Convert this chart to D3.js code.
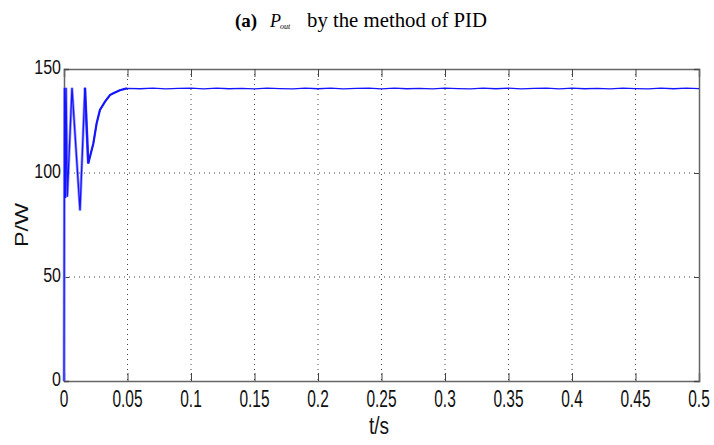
<!DOCTYPE html>
<html>
<head>
<meta charset="utf-8">
<script src="https://cdn.jsdelivr.net/npm/d3@7"></script>
<style>
  body { margin: 0; background: #fff; }
  svg { display: block; }
</style>
</head>
<body>
<script>
// P_out response of the PID controller
const tTrans = [0, 0.0004, 0.0011, 0.0016, 0.0026, 0.0063, 0.0126, 0.0165, 0.0191, 0.0231, 0.0257, 0.0283, 0.0323, 0.0362, 0.0388, 0.0440, 0.0494]
const pTrans = [0, 141, 88, 141, 88.6, 141, 82, 141, 104.6, 114.2, 123.9, 130.3, 134.3, 137.5, 138.3, 139.8, 140.7]

const tSteady = [0.05, 0.06, 0.07, 0.08, 0.09, 0.10, 0.11, 0.12, 0.13, 0.14, 0.15, 0.16, 0.17, 0.18, 0.19, 0.20,
  0.21, 0.22, 0.23, 0.24, 0.25, 0.26, 0.27, 0.28, 0.29, 0.30, 0.31, 0.32, 0.33, 0.34, 0.35, 0.36, 0.37, 0.38,
  0.39, 0.40, 0.41, 0.42, 0.43, 0.44, 0.45, 0.46, 0.47, 0.48, 0.49, 0.50]
const pSteady = [140.8, 140.5, 140.8, 140.4, 140.7, 140.8, 140.4, 140.8, 140.5, 140.7, 140.4, 140.8, 140.6, 140.4, 140.8, 140.5,
  140.8, 140.4, 140.7, 140.8, 140.4, 140.8, 140.5, 140.7, 140.4, 140.8, 140.6, 140.4, 140.8, 140.5, 140.8, 140.4,
  140.7, 140.8, 140.4, 140.8, 140.5, 140.7, 140.4, 140.8, 140.6, 140.4, 140.8, 140.5, 140.8, 140.6]

const xTicks = [0, 0.05, 0.1, 0.15, 0.2, 0.25, 0.3, 0.35, 0.4, 0.45, 0.5]
const xTickLabels = ['0', '0.05', '0.1', '0.15', '0.2', '0.25', '0.3', '0.35', '0.4', '0.45', '0.5']
const yTicks = [0, 50, 100, 150]

let width = 714
let height = 445
let margin = { top: 69, right: 15, bottom: 64, left: 64 }

const svg = d3.select("body").append("svg")
  .attr("width", width)
  .attr("height", height)

const x = d3.scaleLinear().domain([0, 0.5]).range([margin.left, width - margin.right])
const y = d3.scaleLinear().domain([0, 150]).range([height - margin.bottom, margin.top])

const x0 = x(0), x1 = x(0.5), y0 = y(0), y1 = y(150)

// title
const title = svg.append("text")
  .attr("y", 27)
  .attr("font-family", "'Liberation Serif', 'Times New Roman', serif")
  .attr("fill", "#000")
title.append("tspan").attr("x", 235).attr("font-weight", "bold").attr("font-size", 19).text("(a)")
title.append("tspan").attr("x", 270).attr("font-style", "italic").attr("font-size", 18).text("P")
title.append("tspan").attr("x", 280).attr("dy", 2).attr("font-style", "italic").attr("font-size", 8).text("out")
title.append("tspan").attr("x", 307).attr("dy", -2).attr("font-size", 20)
  .attr("textLength", 180).attr("lengthAdjust", "spacingAndGlyphs").text("by the method of PID")

// grid
const grid = svg.append("g")
grid.selectAll(".vgrid")
  .data(xTicks.slice(1, -1))
  .enter().append("line")
  .attr("x1", d => x(d)).attr("x2", d => x(d))
  .attr("y1", y1).attr("y2", y0)
  .attr("stroke", "#444").attr("stroke-width", 1)
  .attr("stroke-dasharray", "1,4")
grid.selectAll(".hgrid")
  .data(yTicks.slice(1, -1))
  .enter().append("line")
  .attr("x1", x0).attr("x2", x1)
  .attr("y1", d => y(d)).attr("y2", d => y(d))
  .attr("stroke", "#444").attr("stroke-width", 1)
  .attr("stroke-dasharray", "1,4")

// axes with inward ticks
svg.append("g").attr("transform", `translate(0,${y0})`)
  .call(d3.axisBottom(x).tickValues(xTicks).tickSize(-8).tickFormat(""))
svg.append("g").attr("transform", `translate(0,${y1})`)
  .call(d3.axisTop(x).tickValues(xTicks).tickSize(-8).tickFormat(""))
svg.append("g").attr("transform", `translate(${x0},0)`)
  .call(d3.axisLeft(y).tickValues(yTicks).tickSize(-5).tickFormat(""))
svg.append("g").attr("transform", `translate(${x1},0)`)
  .call(d3.axisRight(y).tickValues(yTicks).tickSize(-5).tickFormat(""))
svg.selectAll(".domain").attr("stroke", "#666").attr("stroke-width", 1.5)
svg.selectAll(".tick line").attr("stroke", "#444")

// tick labels (narrow, tall MATLAB look)
svg.selectAll(".xlab")
  .data(xTicks)
  .enter().append("text")
  .attr("transform", d => `translate(${x(d)},${y0 + 26}) scale(1,1.5)`)
  .attr("text-anchor", "middle")
  .attr("font-family", "'Liberation Sans', Arial, sans-serif")
  .attr("font-size", 15.5)
  .attr("fill", "#111")
  .text((d, i) => xTickLabels[i])

svg.selectAll(".ylab")
  .data(yTicks)
  .enter().append("text")
  .attr("transform", d => `translate(${x0 - 3},${y(d) + 5}) scale(1,1.25)`)
  .attr("text-anchor", "end")
  .attr("font-family", "'Liberation Sans', Arial, sans-serif")
  .attr("font-size", 16)
  .attr("fill", "#111")
  .text(d => d)

// axis titles
svg.append("text")
  .attr("transform", `translate(379,${y0 + 53}) scale(1,1.25)`)
  .attr("text-anchor", "middle")
  .attr("font-family", "'Liberation Sans', Arial, sans-serif")
  .attr("font-size", 19)
  .attr("fill", "#111")
  .text("t/s")

svg.append("text")
  .attr("transform", `translate(28,${(y0 + y1) / 2}) rotate(-90) scale(1.3,1)`)
  .attr("text-anchor", "middle")
  .attr("font-family", "'Liberation Sans', Arial, sans-serif")
  .attr("font-size", 18)
  .attr("fill", "#111")
  .text("P/W")

// response curve
const line = d3.line().x(d => x(d[0])).y(d => y(d[1]))
const trans = tTrans.map((t, i) => [t, pTrans[i]])
const steady = tSteady.map((t, i) => [t, pSteady[i]])

svg.append("path")
  .datum(trans.slice(0, 9))
  .attr("d", line)
  .attr("fill", "none")
  .attr("stroke", "#9a9aff")
  .attr("stroke-width", 2.8)

svg.append("path")
  .datum(trans.slice(7))
  .attr("d", line)
  .attr("fill", "none")
  .attr("stroke", "#2020ff")
  .attr("stroke-width", 2.2)

svg.append("path")
  .datum(trans.concat(steady.slice(1)))
  .attr("d", line)
  .attr("fill", "none")
  .attr("stroke", "#1414ff")
  .attr("stroke-width", 1.3)
</script>
</body>
</html>
